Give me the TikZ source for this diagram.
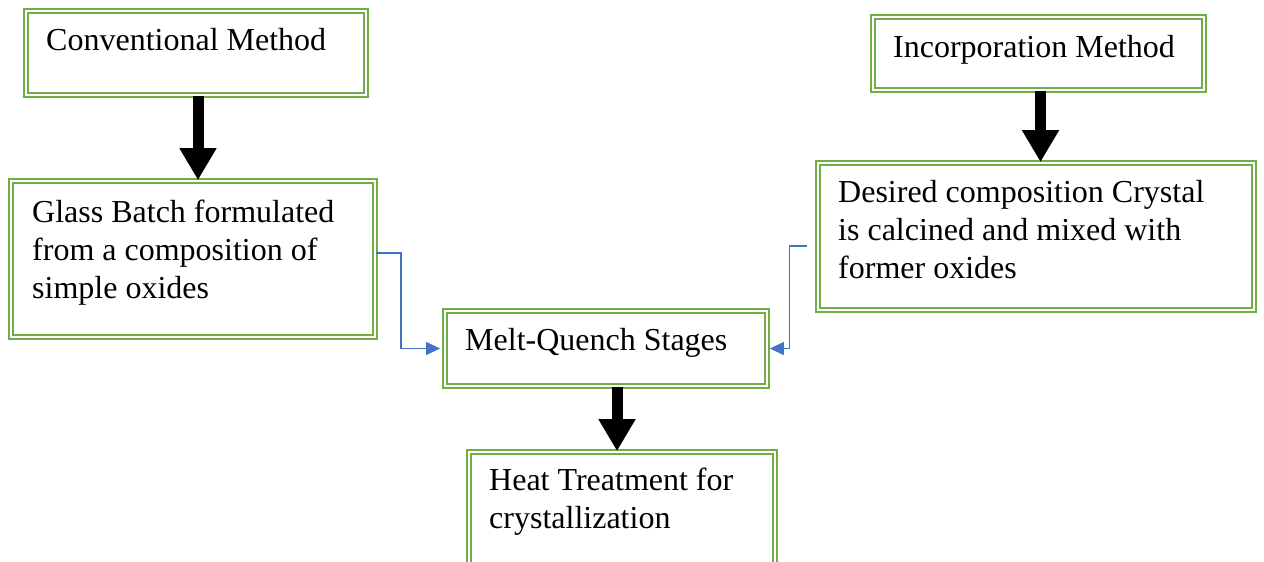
\documentclass[tikz,border=0pt]{standalone}
\usepackage{fontspec}
\setmainfont{Liberation Serif}
\usetikzlibrary{arrows.meta}
\definecolor{boxgreen}{HTML}{70AD47}
\definecolor{linkblue}{HTML}{4472C4}
\begin{document}
\begin{tikzpicture}[x=1pt,y=-1pt,
  box/.style={draw=boxgreen, line width=1.8pt, double=white, double distance=1.6pt,
              rectangle, inner sep=0pt},
  label/.style={anchor=base west, inner sep=0pt, align=left,
                font=\fontsize{32}{38}\selectfont},
  bigarrow/.style={line width=11pt, -{Triangle[width=35pt,length=32pt]}},
  link/.style={draw=linkblue, line width=1.2pt, -{Triangle[width=13pt,length=14pt]}}]
  \useasboundingbox (0,0) rectangle (1264,562);

  % boxes, given by the centre line of their borders
  \node[box, minimum width=340pt, minimum height=84pt]  (A) at (196,53)    {};
  \node[box, minimum width=364pt, minimum height=156pt] (B) at (193,259)   {};
  \node[box, minimum width=331pt, minimum height=73pt]  (C) at (1038.5,53.5) {};
  \node[box, minimum width=436pt, minimum height=147pt] (D) at (1036,236.5) {};
  \node[box, minimum width=322pt, minimum height=75pt]  (E) at (606,348.5) {};
  \node[box, minimum width=306pt, minimum height=118pt] (F) at (622,511)   {};

  % texts (positions are the baseline of the last line)
  \node[label] (tA) at (46,50)  {Conventional Method};
  \node[label] (tB) at (32,298) {Glass Batch formulated\\from a composition of\\simple oxides};
  \node[label] (tC) at (893,57) {Incorporation Method};
  \node[label] (tD) at (838,278) {Desired composition Crystal\\is calcined and mixed with\\former oxides};
  \node[label] (tE) at (465,350) {Melt-Quench Stages};
  \node[label] (tF) at (489,528) {Heat Treatment for\\crystallization};

  % main flow arrows
  \draw[bigarrow] ([xshift=2pt]A.south) -- ([xshift=2pt]A.south |- B.north);
  \draw[bigarrow] ([xshift=2pt]C.south) -- ([xshift=2pt]C.south |- D.north);
  \draw[bigarrow] ([xshift=11pt]E.south) -- ([xshift=11pt]E.south |- F.north);

  % side connectors into the melt-quench stage
  \draw[link, shorten >=4pt] ([yshift=6pt]B.east) -- ++(25,0) |- (E.west);
  \draw[link, shorten <=10pt, shorten >=2pt] ([yshift=-9.5pt]D.west) -- ++(-28,0) |- (E.east);
\end{tikzpicture}
\end{document}
